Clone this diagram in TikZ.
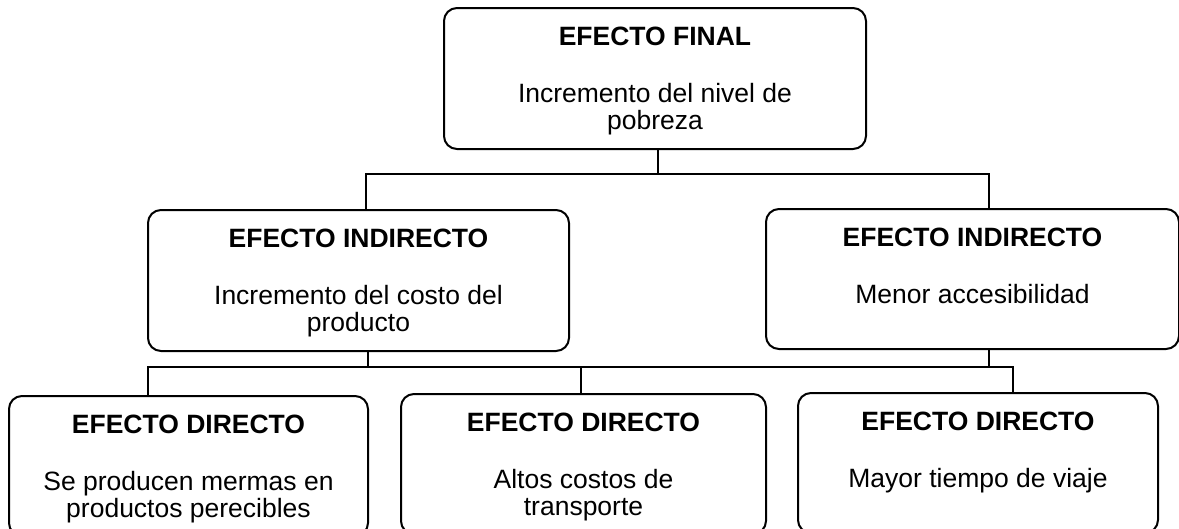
\documentclass[tikz,border=0pt]{standalone}
\usepackage{fontspec}
\setmainfont{Liberation Sans}
\usepackage{tikz}
\usetikzlibrary{positioning,calc}
\tikzstyle{efecto}=[draw, rounded corners=13pt, line width=2pt, inner sep=0pt, anchor=north west, font=\fontsize{26.5}{27}\selectfont]
\tikzstyle{enlace}=[line width=2pt]
\newcommand{\caja}[4]{\parbox[t][#2pt][t]{#1pt}{\centering\vspace*{19pt}\textbf{#3}\par\vspace{30pt}#4}}

\begin{document}
\begin{tikzpicture}[x=1pt, y=-1pt]
    \useasboundingbox (0,0) rectangle (1179,528);
    \clip (0,0) rectangle (1179,528);
    % efecto final
    \node[efecto] (fin) at (443,7) {\caja{422}{141}{EFECTO FINAL}{Incremento del nivel de\\pobreza}};
    % efectos indirectos
    \node[efecto] (ind1) at (147,209) {\caja{421}{141}{EFECTO INDIRECTO}{Incremento del costo del\\producto}};
    \node[efecto] (ind2) at (765,208) {\caja{413}{140}{EFECTO INDIRECTO}{Menor accesibilidad}};
    % efectos directos
    \node[efecto] (dir1) at (8,395) {\caja{359}{140}{EFECTO DIRECTO}{Se producen mermas en\\productos perecibles}};
    \node[efecto] (dir2) at (400,393) {\caja{365}{140}{EFECTO DIRECTO}{Altos costos de\\transporte}};
    \node[efecto] (dir3) at (797,392) {\caja{360}{140}{EFECTO DIRECTO}{Mayor tiempo de viaje}};

    % final -> indirectos
    \draw[enlace] ([xshift=3]fin.south) -- ++(0,24) coordinate (j1) -| ([xshift=7.5]ind1.north);
    \draw[enlace] (j1) -| ([xshift=16.5]ind2.north);

    % indirectos -> directos
    \draw[enlace] ([xshift=9.5]ind1.south) -- ++(0,15) coordinate (j2) -| ([xshift=-40.5]dir1.north);
    \draw[enlace] (j2) -| ([xshift=-2.5]dir2.north);
    \draw[enlace] (j2) -| ([xshift=35]dir3.north);
    \draw[enlace] ([xshift=16.5]ind2.south) -- ++(0,17);
\end{tikzpicture}
\end{document}
